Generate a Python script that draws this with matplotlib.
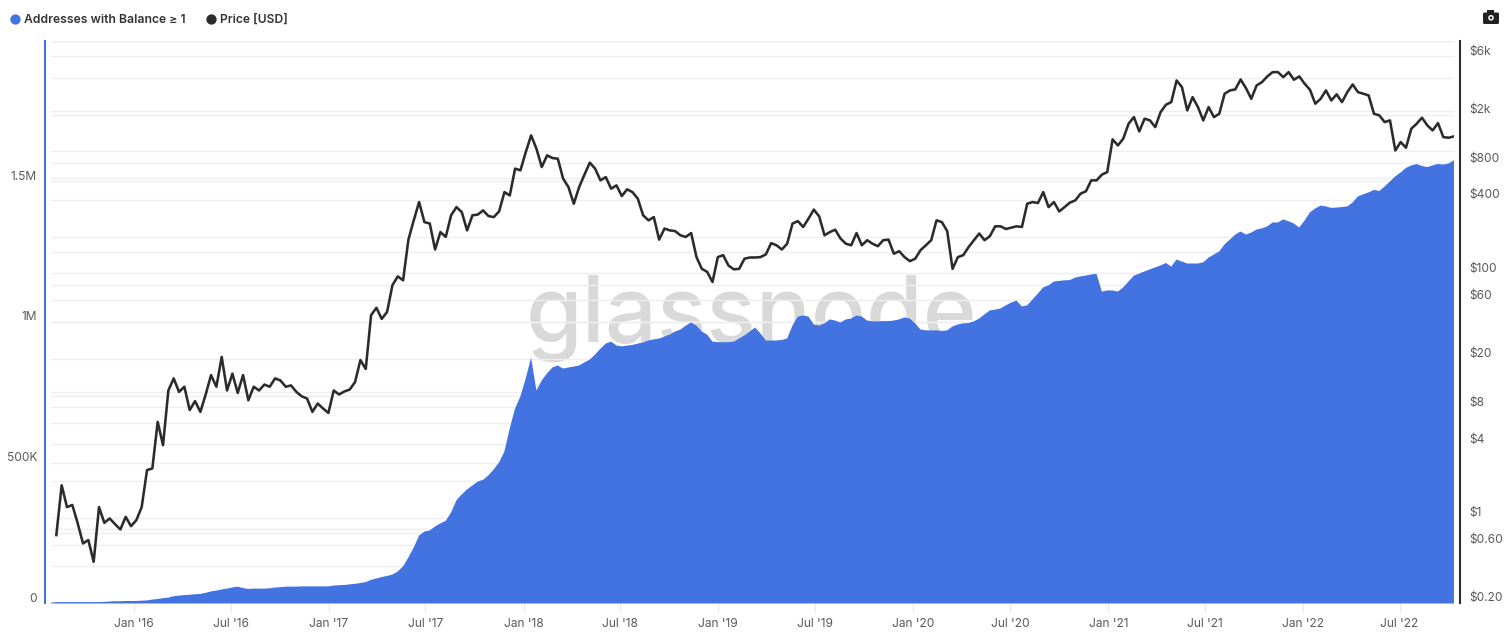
import pandas as pd
import matplotlib
matplotlib.use('Agg')
import matplotlib.pyplot as plt
import matplotlib.dates as mdates
from matplotlib.lines import Line2D
from matplotlib.patches import FancyBboxPatch, Circle, Rectangle
from matplotlib.ticker import NullLocator
from matplotlib.transforms import ScaledTranslation

plt.rcParams['font.family'] = ['Inter', 'DejaVu Sans']

# one reading every 10 days
price_usd = [
    0.72, 1.84, 1.22, 1.27, 0.90, 0.615, 0.655, 0.435, 1.22, 0.906, 0.985, 0.885, 0.80,
    1.015, 0.852, 0.954, 1.22, 2.45, 2.53, 6.08, 3.92, 11.0, 13.8, 10.7, 11.8, 7.6, 9.0,
    7.35, 10.2, 14.7, 11.8, 20.7, 11.0, 15.1, 10.5, 14.7, 9.15,
    11.8, 11.0, 12.3, 11.8, 13.8, 13.3, 11.8, 12.1, 10.7, 9.85, 9.45, 7.35, 8.6, 7.83,
    7.2, 11.0, 10.2, 10.8, 11.2, 12.9, 19.5, 16.5, 45.5, 52.3, 42.4, 48.4, 80, 94.5, 87.8,
    189, 272, 384, 263, 256, 157, 218, 199, 299,
    349, 318, 225, 299, 303, 328, 295, 289, 322, 463, 435, 721, 698, 985, 1349, 1050, 743,
    926, 880, 870, 597, 509, 372, 509, 644, 807, 721, 578, 615, 494, 526, 430, 488, 463,
    409, 299, 272,
    289, 189, 233, 225, 222, 205, 199, 214, 136, 109, 103, 85, 136, 141, 116, 108, 109,
    132, 135, 135, 136, 143, 177, 170, 157, 175, 256, 268, 240, 281, 333, 293, 205, 218,
    228, 193, 175,
    170, 214, 170, 187, 175, 167, 187, 189, 145, 152, 136, 126, 132, 155, 170, 187, 272,
    263, 222, 109, 136, 141, 164, 187, 212, 187, 202, 243, 243, 231, 237, 243, 240, 372,
    384, 377, 463, 349,
    384, 322, 349, 380, 396, 450, 470, 578, 578, 644, 676, 1251, 1117, 1268, 1682, 1905,
    1455, 1849, 1790, 1578, 2094, 2405, 2528, 3802, 3352, 2161, 2775, 2301, 1790, 2301,
    1905, 2030, 2960, 3150, 3212, 3874, 3289, 2692,
    3460, 3683, 4102, 4448, 4448, 4048, 4448, 3855, 4102, 3574, 3192, 2453, 2692, 3150,
    2609, 2923, 2528, 3050, 3526, 3050, 2960, 2866, 2030, 1968, 1734, 1790, 1016, 1189,
    1070, 1531, 1682, 1884, 1629, 1482, 1701, 1306, 1291, 1324,
]

addresses_k = [
    3, 5, 5, 5, 5, 5, 5, 5, 5, 5, 6, 7, 8, 8, 9, 9, 9, 10, 11, 14, 16, 19, 21, 26, 28, 30,
    31, 33, 34, 38, 43, 46, 50, 53, 57, 60, 55, 52, 53, 53, 53, 54, 57, 58, 60, 60, 60, 61,
    61, 61, 61, 61, 61, 64, 65, 66, 68, 70, 73, 76, 84, 89, 94, 98, 103, 114, 132, 164, 199,
    242, 256, 260, 274, 285, 294, 324, 367, 388, 406, 420, 434, 440, 456, 477, 502, 541,
    623, 694, 737, 801, 875, 758, 794, 819, 840, 847, 836, 840, 843, 847, 858, 868, 886,
    907, 925, 932, 918, 915, 918, 920, 925, 929, 936, 940, 943, 950, 957, 968, 975, 989,
    1000, 989, 968, 957, 932, 930, 930, 930, 932, 943, 954, 968, 982, 961, 936, 936, 936,
    938, 943, 989, 1021, 1025, 1021, 993, 989, 997, 1011, 1007, 1000, 1011, 1014, 1025,
    1021, 1007, 1004, 1004, 1005, 1005, 1007, 1011, 1018, 1014, 997, 975, 972, 972, 972,
    970, 972, 986, 993, 997, 998, 1004, 1014, 1029, 1043, 1046, 1050, 1061, 1071, 1078,
    1057, 1061, 1082, 1103, 1125, 1132, 1146, 1148, 1150, 1151, 1160, 1164, 1167, 1171,
    1173, 1110, 1114, 1114, 1110, 1125, 1146, 1167, 1174, 1182, 1189, 1196, 1203, 1212,
    1199, 1224, 1217, 1210, 1210, 1210, 1214, 1231, 1242, 1253, 1278, 1295, 1313, 1324,
    1313, 1320, 1331, 1335, 1342, 1356, 1356, 1367, 1360, 1352, 1338, 1363, 1392, 1406,
    1416, 1413, 1408, 1409, 1411, 1413, 1427, 1449, 1456, 1463, 1472, 1468, 1484, 1502,
    1520, 1534, 1550, 1559, 1564, 1557, 1553, 1559, 1564, 1562, 1566, 1577,
]

left_ticks = [0, 250, 500, 750, 1000, 1250, 1500, 1750, 2000]
left_labels = ['0', '', '500K', '', '1M', '', '1.5M', '', '']
right_ticks = [0.2, 0.4, 0.6, 0.8, 1, 2, 4, 6, 8, 10, 20, 40, 60, 80, 100, 200, 400, 600, 800,
               1000, 2000, 4000, 6000, 8000]
right_labels = ['$0.20', '', '$0.60', '', '$1', '', '$4', '', '$8', '', '$20', '', '$60', '',
                '$100', '', '$400', '', '$800', '', '$2k', '', '$6k', '']
x_ticks = ['2016-01-01', '2016-07-01', '2017-01-01', '2017-07-01', '2018-01-01', '2018-07-01',
           '2019-01-01', '2019-07-01', '2020-01-01', '2020-07-01', '2021-01-01', '2021-07-01',
           '2022-01-01', '2022-07-01']
x_labels = ["Jan '16", "Jul '16", "Jan '17", "Jul '17", "Jan '18", "Jul '18", "Jan '19",
            "Jul '19", "Jan '20", "Jul '20", "Jan '21", "Jul '21", "Jan '22", "Jul '22"]

BLUE = '#4273e0'
DARK = '#2b2b2b'
GREY = '#5a5a5a'
GRID = '#efefef'
W, H = 1512, 638

price_dates = pd.date_range('2015-08-09', periods=len(price_usd), freq='10D')
address_dates = pd.date_range('2015-07-29', periods=len(addresses_k), freq='10D')
x_range = (pd.Timestamp('2015-07-30'), pd.Timestamp('2022-10-11'))

fig = plt.figure(figsize=(W / 100, H / 100), dpi=100, facecolor='white')
box = [51 / W, 1 - 603 / H, 1403 / W, 562 / H]

# three layers: price grid at the bottom, then the area, then the price line
ax2 = fig.add_axes(box, zorder=1)
ax = fig.add_axes(box, zorder=2, sharex=ax2)
ax3 = fig.add_axes(box, zorder=3, sharex=ax2)
ax.patch.set_visible(False)
ax3.patch.set_visible(False)
ax3.axis('off')

# watermark sits behind the grid and the area
ax2.text(751 / W, 1 - 342 / H, 'glassnode', transform=fig.transFigure, ha='center', va='baseline',
         fontsize=66, fontweight='medium', color='#d9d9d9', zorder=0.4)

ax3.plot(price_dates, price_usd, color=DARK, lw=1.85, solid_joinstyle='round')
ax.fill_between(address_dates, addresses_k, 0, color=BLUE, lw=0, zorder=2)

for each in [ax2, ax3]:
    each.set_yscale('log')
    each.set_ylim(0.2, 8000)
ax.set_ylim(0, 2000)
ax2.set_xlim(*x_range)

ax2.yaxis.tick_right()
ax2.set_yticks(right_ticks)
ax2.set_yticklabels(right_labels)
ax2.yaxis.set_minor_locator(NullLocator())
ax.set_yticks(left_ticks)
ax.set_yticklabels(left_labels)
ax2.set_xticks(mdates.date2num(pd.to_datetime(x_ticks)))
ax2.set_xticklabels(x_labels)

ax2.set_axisbelow(True)
ax.set_axisbelow(True)
ax2.grid(True, 'major', 'y', color=GRID, lw=1)
ax.grid(True, 'major', 'y', color=GRID, lw=1)

for each in ['top', 'bottom', 'left', 'right']:
    ax.spines[each].set_visible(False)
    ax2.spines[each].set_visible(False)
ax.spines['left'].set_visible(True)
ax.spines['left'].set_position(('outward', 4.3))
ax.spines['left'].set_color(BLUE)
ax.spines['left'].set_linewidth(1.5)
ax2.spines['right'].set_visible(True)
ax2.spines['right'].set_position(('outward', 4.3))
ax2.spines['right'].set_color(DARK)
ax2.spines['right'].set_linewidth(1.5)

ax.tick_params(axis='y', length=0, pad=5.8, labelsize=8.6, labelcolor=GREY)
ax2.tick_params(axis='y', length=0, pad=7, labelsize=8.6, labelcolor=GREY)
ax2.tick_params(axis='x', length=6.5, width=0.8, color='#e8e8e8', pad=4, labelsize=8.6,
                labelcolor=GREY)
ax.tick_params(axis='x', length=0, labelbottom=False)

# y labels sit just above their grid line
lift = ScaledTranslation(0, 0.06, fig.dpi_scale_trans)
for label in ax.get_yticklabels() + ax2.get_yticklabels():
    label.set_transform(label.get_transform() + lift)

handles = [Line2D([], [], ls='', marker='o', ms=6.4, color=BLUE, label='Addresses with Balance ≥ 1'),
           Line2D([], [], ls='', marker='o', ms=6.4, color=DARK, label='Price [USD]')]
fig.legend(handles=handles, loc='center left', bbox_to_anchor=(10.8 / W, 1 - 20 / H), ncol=2,
           frameon=False, borderpad=0, borderaxespad=0, handlelength=0.7, handletextpad=0.4,
           columnspacing=1.72, prop={'size': 8.75, 'weight': 'semibold'}, labelcolor='#333333')

# camera button, top right
cam = FancyBboxPatch((1483.5, 638 - 23.5), 15, 10.5, boxstyle='round,pad=0.5,rounding_size=1.5',
                     transform=None, fc='#222222', ec='none')
fig.add_artist(cam)
fig.add_artist(Rectangle((1487, 638 - 13.5), 7, 3.5, transform=None, fc='#222222', ec='none'))
fig.add_artist(Circle((1491, 638 - 17.8), 2.8, transform=None, fc='white', ec='none'))
fig.add_artist(Circle((1491, 638 - 17.8), 1.3, transform=None, fc='#222222', ec='none'))

fig.savefig('out.png', dpi=100)
